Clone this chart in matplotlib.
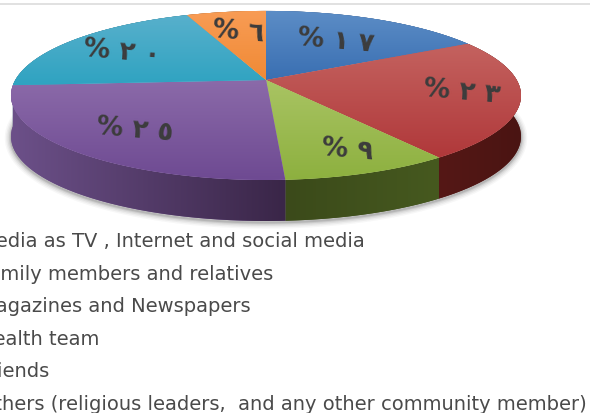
import numpy as np
import matplotlib
matplotlib.use("Agg")
import matplotlib.pyplot as plt
from matplotlib.path import Path
from matplotlib.patches import PathPatch
from matplotlib.colors import LinearSegmentedColormap

# ---- data ----
categories = ["Media as TV , Internet and social media",
              "Family members and relatives",
              "Magazines and Newspapers",
              "Health team",
              "Friends",
              "Others (religious leaders,  and any other community member)"]
values = [17, 23, 9, 25, 20, 6]
value_labels = ["% ١ ٧", "% ٢ ٣", "% ٩", "% ٢ ٥", "% ٢ ٠", "% ٦"]

# ---- style ----
top_light = ["#5c8dc6", "#c4625f", "#a9c463", "#8b6aa9", "#58b0cc", "#f89c55"]
top_dark = ["#3a6fb2", "#b0383a", "#8db03f", "#6e4a92", "#2fa3c1", "#f08a35"]
side_left = ["#2a4a78", "#551816", "#3b4a1a", "#6c5089", "#1c6578", "#8a4d1c"]
side_right = ["#2a4a78", "#4a1412", "#46591f", "#3a2648", "#1c6578", "#8a4d1c"]
label_xy = [(336, 41), (462, 92), (347, 150), (135, 130), (122, 52), (238, 32)]
legend_y = [242, 275, 307, 340, 372, 405]
CX, CY, A, B, K = 266, 81, 250.7, 81.7, 0.183
DEPTH = 41

plt.rcParams["font.family"] = ["DejaVu Sans"]
fig = plt.figure(figsize=(5.9, 4.14), dpi=100)
ax = fig.add_axes([0, 0, 1, 1])


def proj(frac):
    t = 2 * np.pi * np.asarray(frac)
    u, v = np.sin(t), np.cos(t)
    w = 1 + K * v
    return CX + A * u / w, CY - B * v / w


def gradient_fill(verts, c1, c2, horizontal, z):
    path = Path(verts)
    xs = [v[0] for v in verts]
    ys = [v[1] for v in verts]
    patch = PathPatch(path, facecolor=c1, edgecolor="none", zorder=z)
    ax.add_patch(patch)
    cmap = LinearSegmentedColormap.from_list("g", [c1, c2])
    ramp = np.linspace(0, 1, 128)
    ramp = ramp.reshape(1, -1) if horizontal else ramp.reshape(-1, 1)
    im = ax.imshow(ramp, cmap=cmap, aspect="auto", zorder=z,
                   extent=(min(xs), max(xs), max(ys), min(ys)),
                   interpolation="bilinear")
    im.set_clip_path(patch)


# top rule
ax.plot([0, 590], [5, 5], color="#dcdcdc", lw=1.2, zorder=1)

# soft shadow around the pie body
ox, oy = proj(np.linspace(0, 1, 361))
for lw, al in [(9, 0.035), (7, 0.05), (5, 0.07), (3, 0.10), (1.5, 0.14)]:
    ax.plot(ox, oy + DEPTH + 1.5, color="#303030", alpha=al, lw=lw, zorder=2,
            solid_capstyle="round")

# wedge boundaries
edges = np.concatenate([[0], np.cumsum(values)]) / np.sum(values)
n = len(values)

# side wall, painted from the back of the pie to the front
order = sorted(range(n), key=lambda i: proj(edges[i:i + 2])[1].max())
for k, i in enumerate(order):
    x, y = proj(np.linspace(edges[i], edges[i + 1], 80))
    verts = list(zip(x, y)) + list(zip(x[::-1], y[::-1] + DEPTH))
    verts.append(verts[0])
    gradient_fill(verts, side_left[i], side_right[i], True, 3 + k * 0.01)

# top faces with a vertical gradient
for i in range(n):
    x, y = proj(np.linspace(edges[i], edges[i + 1], 80))
    verts = [(CX, CY)] + list(zip(x, y)) + [(CX, CY)]
    gradient_fill(verts, top_light[i], top_dark[i], False, 4)

# value labels
for (lx, ly), s in zip(label_xy, value_labels):
    ax.text(lx, ly, s, ha="center", va="center", fontsize=19, fontweight="bold",
            color="#3c3c3c", rotation=-5, zorder=6)

# legend text, cut by the left edge as in the source picture
for yy, s in zip(legend_y, categories):
    ax.text(-21, yy, s, ha="left", va="center", fontsize=14, color="#4a4a4a",
            zorder=6, clip_on=False)

ax.set_xlim(0, 590)
ax.set_ylim(414, 0)
ax.axis("off")
fig.savefig("out.png", dpi=100)
